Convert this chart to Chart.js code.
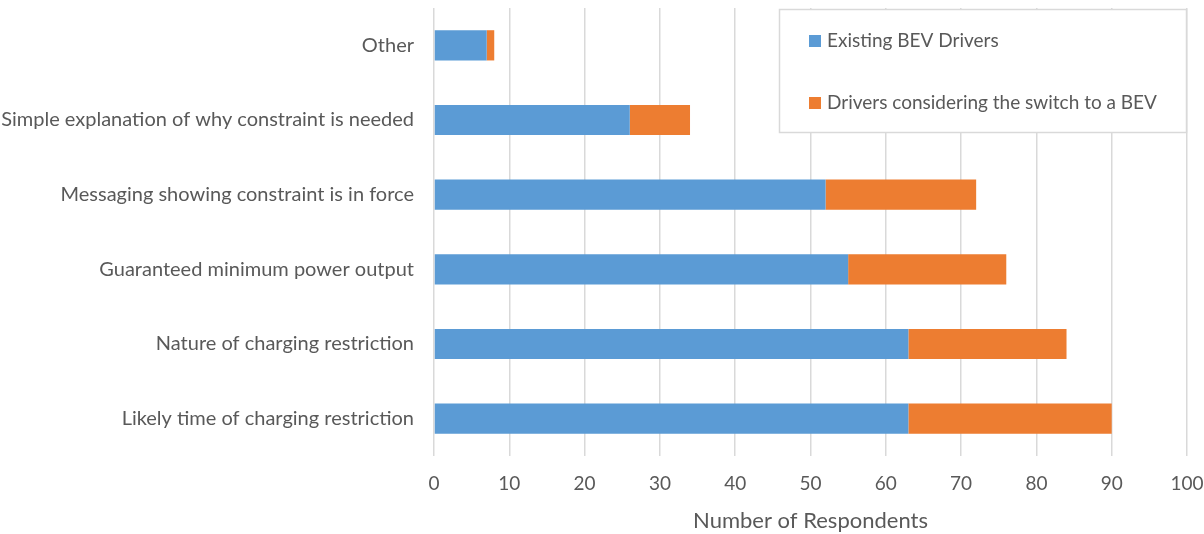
<!DOCTYPE html>
<html>
<head>
<meta charset="utf-8">
<script src="https://cdn.jsdelivr.net/npm/chart.js@4/dist/chart.umd.min.js"></script>
<style>
  html, body { margin: 0; padding: 0; background: #fff; }
  #wrap { width: 1204px; height: 534px; }
</style>
</head>
<body>
<div id="wrap"><canvas id="c" width="1204" height="534"></canvas></div>
<script>
const categories = [
  'Other',
  'Simple explanation of why constraint is needed',
  'Messaging showing constraint is in force',
  'Guaranteed minimum power output',
  'Nature of charging restriction',
  'Likely time of charging restriction'
];
const existingDrivers = [7, 26, 52, 55, 63, 63];
const consideringDrivers = [1, 8, 20, 21, 21, 27];
const seriesNames = ['Existing BEV Drivers', 'Drivers considering the switch to a BEV'];
const xTicks = [0, 10, 20, 30, 40, 50, 60, 70, 80, 90, 100];

const FONT = 'Lato, "Open Sans", sans-serif';
const TEXT = '#595959';

// Boxed legend drawn inside the plot's upper-right corner
const boxLegend = {
  id: 'boxLegend',
  afterDraw(chart) {
    const ctx = chart.ctx;
    const x0 = 779, y0 = 9, w = 408, h = 124;
    ctx.save();
    ctx.fillStyle = '#fff';
    ctx.fillRect(x0, y0, w, h);
    ctx.strokeStyle = '#D9D9D9';
    ctx.lineWidth = 1.5;
    ctx.strokeRect(x0 + 0.5, y0 + 0.5, w - 1, h - 1);
    ctx.font = '19px ' + FONT;
    ctx.textBaseline = 'middle';
    chart.data.datasets.forEach((ds, i) => {
      const cy = y0 + 32 + i * 62;
      ctx.fillStyle = ds.backgroundColor;
      ctx.fillRect(x0 + 30, cy - 6, 12, 12);
      ctx.fillStyle = TEXT;
      ctx.fillText(ds.label, x0 + 48, cy);
    });
    ctx.restore();
  }
};

new Chart(document.getElementById('c'), {
  type: 'bar',
  data: {
    labels: categories,
    datasets: [
      { label: seriesNames[0], data: existingDrivers, backgroundColor: '#5B9BD5' },
      { label: seriesNames[1], data: consideringDrivers, backgroundColor: '#ED7D31' }
    ]
  },
  options: {
    indexAxis: 'y',
    responsive: false,
    animation: false,
    layout: { padding: { top: 8, right: 17, bottom: 0, left: 0 } },
    datasets: { bar: { categoryPercentage: 1, barPercentage: 0.405 } },
    plugins: { legend: { display: false }, tooltip: { enabled: false } },
    scales: {
      x: {
        stacked: true,
        min: 0, max: 100,
        afterBuildTicks(scale) { scale.ticks = xTicks.map(v => ({ value: v })); },
        afterFit(scale) {
          scale.height = 78;
          scale.paddingLeft = 0;
          scale.paddingRight = 0;
        },
        grid: { color: '#D9D9D9', lineWidth: 1.5, drawTicks: false },
        border: { display: false },
        ticks: { color: TEXT, font: { family: FONT, size: 19 }, padding: 16 },
        title: {
          display: true, text: 'Number of Respondents', color: TEXT,
          font: { family: FONT, size: 22 }, padding: { top: 11, bottom: 0 }
        }
      },
      y: {
        stacked: true,
        afterFit(scale) {
          scale.width = 434;
          scale.paddingTop = 0;
          scale.paddingBottom = 0;
        },
        grid: { display: false, drawTicks: false },
        border: { display: false },
        ticks: { color: TEXT, font: { family: FONT, size: 20 }, padding: 20 }
      }
    }
  },
  plugins: [boxLegend]
});
</script>
</body>
</html>
